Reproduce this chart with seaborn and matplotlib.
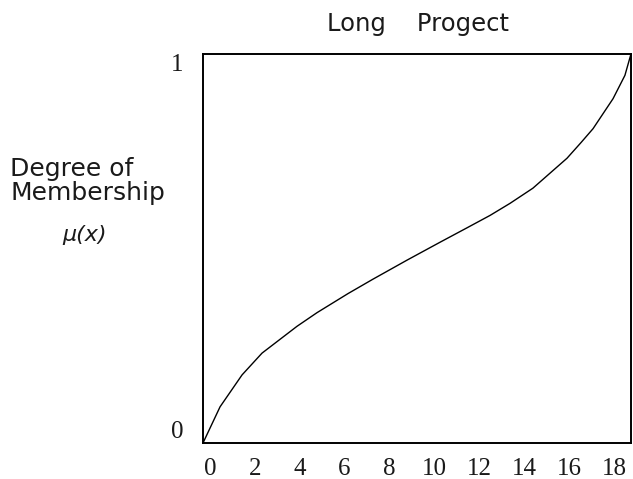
import numpy as np
import pandas as pd
import matplotlib
matplotlib.use('Agg')
import matplotlib.pyplot as plt
import seaborn as sns

# values
x_vals = [-0.31, 0.45, 1.43, 2.32, 3.88, 4.77, 6.15, 7.26, 8.78, 10.25,
          11.45, 12.48, 13.37, 14.39, 15.91, 16.53, 17.07, 17.96, 18.49, 18.76]
mu_vals = [0.0, 0.093, 0.175, 0.231, 0.300, 0.335, 0.384, 0.421, 0.470, 0.516,
           0.553, 0.585, 0.616, 0.655, 0.732, 0.772, 0.808, 0.885, 0.945, 1.0]
x_ticks = [0, 2, 4, 6, 8, 10, 12, 14, 16, 18]
y_ticks = [0, 1]

df = pd.DataFrame({'x': x_vals, 'mu': mu_vals})

sns.set_style('white')
plt.rcParams['font.family'] = ['DejaVu Sans']

fig = plt.figure(figsize=(6.33, 4.79), dpi=100)
ax = fig.add_axes([0.3207, 0.0752, 0.6761, 0.8121])

sns.lineplot(data=df, x='x', y='mu', color='black', linewidth=1.0, ax=ax)

ax.set_xlim(-0.31, 18.76)
ax.set_ylim(0, 1)
ax.set_xticks(x_ticks)
ax.set_yticks(y_ticks)
ax.set_xticklabels([str(t) for t in x_ticks], family='Liberation Serif', fontsize=18)
ax.set_yticklabels([str(t) for t in y_ticks], family='Liberation Serif', fontsize=18)
ax.tick_params(axis='x', length=0, pad=11, labelcolor='#1a1a1a')
ax.tick_params(axis='y', length=0, pad=14, labelcolor='#1a1a1a')
labs = ax.get_yticklabels()
labs[0].set_va('bottom')
labs[1].set_va('top')
ax.set_xlabel('')
ax.set_ylabel('')

for sp in ax.spines.values():
    sp.set_color('black')
    sp.set_linewidth(1.4)

# title and the y label block
fig.text(0.66, 0.95, 'Long    Progect', fontsize=17.5, ha='center', va='center', color='#1a1a1a')
fig.text(0.016, 0.647, 'Degree of', fontsize=18, ha='left', va='center', color='#1a1a1a')
fig.text(0.016, 0.598, 'Membership', fontsize=18, ha='left', va='center', color='#1a1a1a')
fig.text(0.098, 0.509, 'μ(x)', fontsize=16, style='italic', ha='left', va='center', color='#1a1a1a')

fig.savefig('out.png', dpi=100, facecolor='white')
